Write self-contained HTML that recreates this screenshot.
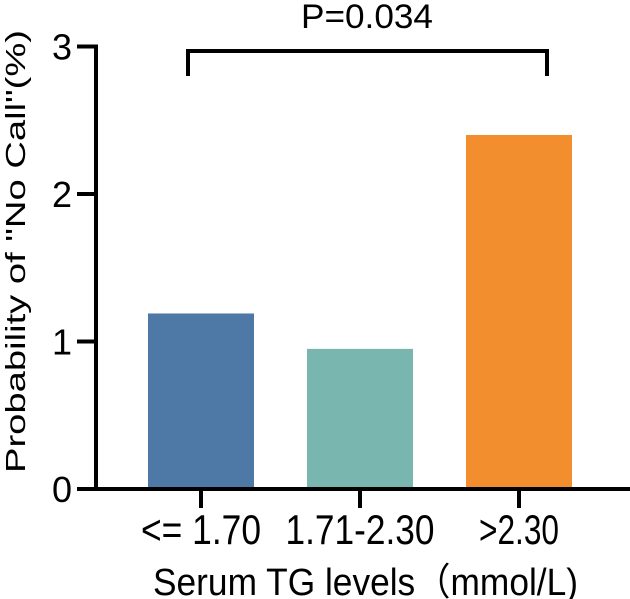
<!DOCTYPE html>
<html><head><meta charset="utf-8"><style>
html,body{margin:0;padding:0;background:#fff;}
#wrap{position:relative;width:630px;height:599px;}
svg{display:block;font-family:"Liberation Sans","Noto Sans CJK SC",sans-serif;}
</style></head><body>
<div id="wrap">
<svg id="chart" width="630" height="599" viewBox="0 0 630 599">
<g id="bars"></g>
<g id="axes"></g>
</svg>
<svg width="630" height="599" style="position:absolute;left:0;top:0">
<g font-family="Liberation Sans, Noto Sans CJK SC, sans-serif">
<path d="M188 76 V51 H547 V76" fill="none" stroke="#000" stroke-width="4"/>
<text x="301" y="28" font-size="34" textLength="132" lengthAdjust="spacingAndGlyphs">P=0.034</text>
<text x="153" y="595" font-size="38" textLength="425" lengthAdjust="spacingAndGlyphs">Serum TG levels（mmol/L)</text>
<text transform="translate(25,473) rotate(-90)" x="0" y="0" font-size="28" textLength="443" lengthAdjust="spacingAndGlyphs">Probability of "No Call"(%)</text>
</g>
</svg>
</div>
<script>
const categories = ["<= 1.70", "1.71-2.30", ">2.30"];
const values = [1.19, 0.95, 2.40];
const colors = ["#4e79a7", "#79b6b0", "#f28e2e"];
const yTicks = [0, 1, 2, 3];
const labelWidths = [120, 149, 80];

const ns = "http://www.w3.org/2000/svg";
const x0 = 96, y0 = 489, yUnit = 147.5, xStart = 201, xStep = 159, barW = 106;
function yScale(v){ return y0 - v * yUnit; }
function xScale(i){ return xStart + i * xStep; }
function mk(tag, attrs, parent){
  const e = document.createElementNS(ns, tag);
  for (const k in attrs) e.setAttribute(k, attrs[k]);
  parent.appendChild(e); return e;
}
const bars = document.getElementById("bars");
const axes = document.getElementById("axes");
values.forEach((v, i) => {
  const r = mk("rect", {x: xScale(i) - barW/2, y: yScale(v), width: barW, height: y0 - yScale(v), fill: colors[i]}, bars);
  
  
});
const ya = mk("line", {x1: x0, y1: yScale(3) - 2, x2: x0, y2: y0 + 2, stroke: "#000", "stroke-width": 4}, axes);


const xa = mk("line", {x1: x0 - 2, y1: y0, x2: 630, y2: y0, stroke: "#000", "stroke-width": 4}, axes);


yTicks.forEach(t => {
  const l = mk("line", {x1: 77, y1: yScale(t), x2: x0, y2: yScale(t), stroke: "#000", "stroke-width": 4}, axes);
  
  
  const tx = mk("text", {x: 72, y: yScale(t) + 13, "text-anchor": "end", "font-size": 36, fill: "#000"}, axes);
  tx.textContent = t;
  
  
});
categories.forEach((c, i) => {
  const l = mk("line", {x1: xScale(i), y1: y0, x2: xScale(i), y2: y0 + 19, stroke: "#000", "stroke-width": 4}, axes);
  
  
  const tx = mk("text", {x: xScale(i) - labelWidths[i]/2, y: 544, "font-size": 42, fill: "#000", textLength: labelWidths[i], lengthAdjust: "spacingAndGlyphs"}, axes);
  tx.textContent = c;
  
  
});
</script>
</body></html>
